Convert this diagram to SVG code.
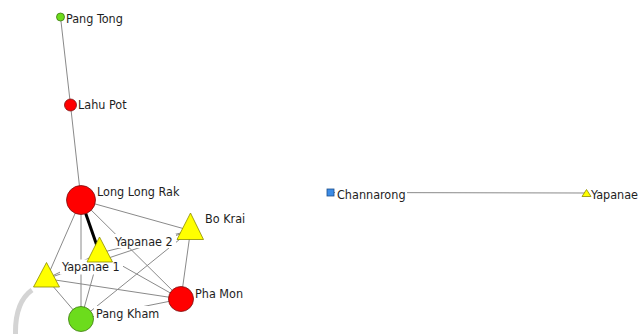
<svg xmlns="http://www.w3.org/2000/svg" width="640" height="334" viewBox="0 0 640 334">
<style>
.e{stroke:#8a8a8a;stroke-width:1;fill:none}
.lb{fill:#ffffff}
.t{font-family:"DejaVu Sans Condensed","DejaVu Sans",sans-serif;font-size:12.5px;fill:#1e1e1e}
.red{fill:#ff0000;stroke:#7a1010;stroke-width:0.8}
.grn{fill:#6cdc1c;stroke:#3d7a10;stroke-width:0.8}
.yel{fill:#ffff00;stroke:#8c8c00;stroke-width:0.8}
.blu{fill:#3c8ce6;stroke:#1d4f8c;stroke-width:0.8}
</style>
<rect width="640" height="334" fill="#ffffff"/>
<path d="M32,290 Q15,302 15.5,334" stroke="#d4d4d4" stroke-width="5" fill="none"/>
<g id="connectors">
<line class="e" x1="60.5" y1="17" x2="70.5" y2="105"/>
<line class="e" x1="70.5" y1="105" x2="81" y2="200"/>
<line class="e" x1="81" y1="200" x2="190.5" y2="230.6"/>
<line class="e" x1="81" y1="200" x2="46.5" y2="278.7"/>
<line class="e" x1="81" y1="200" x2="81" y2="319"/>
<line class="e" x1="81" y1="200" x2="181" y2="299"/>
<line class="e" x1="99.5" y1="253" x2="190.5" y2="230.6"/>
<line class="e" x1="99.5" y1="253" x2="181" y2="299"/>
<line class="e" x1="99.5" y1="253" x2="81" y2="319"/>
<line class="e" x1="46.5" y1="278.7" x2="99.5" y2="253"/>
<line class="e" x1="46.5" y1="278.7" x2="181" y2="299"/>
<line class="e" x1="46.5" y1="278.7" x2="81" y2="319"/>
<line class="e" x1="46.5" y1="278.7" x2="190.5" y2="230.6"/>
<line class="e" x1="81" y1="319" x2="190.5" y2="230.6"/>
<line class="e" x1="81" y1="319" x2="181" y2="299"/>
<line class="e" x1="190.5" y1="230.6" x2="181" y2="299"/>
<line x1="81" y1="200" x2="99.5" y2="253" stroke="#000000" stroke-width="3"/>
<line class="e" x1="330.5" y1="192.5" x2="586.5" y2="193"/>
</g>
<g id="label-backgrounds">
<rect class="lb" x="65" y="11" width="63" height="15"/>
<rect class="lb" x="76" y="97" width="53" height="15"/>
<rect class="lb" x="95" y="184" width="87" height="15"/>
<rect class="lb" x="203" y="211" width="44" height="15"/>
<rect class="lb" x="113" y="234" width="63" height="14"/>
<rect class="lb" x="60" y="259.5" width="63" height="15"/>
<rect class="lb" x="193" y="286" width="52" height="15"/>
<rect class="lb" x="94" y="306" width="68" height="15"/>
<rect class="lb" x="335" y="187" width="72" height="15"/>
<rect class="lb" x="589" y="187" width="51" height="15"/>
</g>
<g id="node-pang-tong"><circle class="grn" cx="60.5" cy="17" r="4"/><text class="t" x="66" y="23">Pang Tong</text></g>
<g id="node-lahu-pot"><circle class="red" cx="70.5" cy="105" r="6"/><text class="t" x="78" y="109">Lahu Pot</text></g>
<g id="node-long-long-rak"><circle class="red" cx="81" cy="200" r="14.5"/><text class="t" x="97" y="196">Long Long Rak</text></g>
<g id="node-bo-krai"><polygon class="yel" points="190.5,213 203.5,239.5 177,239.5"/><text class="t" x="205" y="222.5">Bo Krai</text></g>
<g id="node-yapanae-2"><polygon class="yel" points="99.5,237 112.5,262 87,262"/><text class="t" x="115" y="246">Yapanae 2</text></g>
<g id="node-yapanae-1"><polygon class="yel" points="46.5,262.5 59.5,287 33.5,287"/><text class="t" x="62" y="271">Yapanae 1</text></g>
<g id="node-pha-mon"><circle class="red" cx="181" cy="299" r="12.5"/><text class="t" x="195" y="298">Pha Mon</text></g>
<g id="node-pang-kham"><circle class="grn" cx="81" cy="319" r="12.5"/><text class="t" x="96" y="318">Pang Kham</text></g>
<g id="node-channarong"><rect class="blu" x="327" y="189" width="7" height="7"/><text class="t" x="337" y="199">Channarong</text></g>
<g id="node-yapanae"><polygon class="yel" points="586.5,189.5 591,196.5 582,196.5"/><text class="t" x="591" y="199">Yapanae</text></g>
</svg>
